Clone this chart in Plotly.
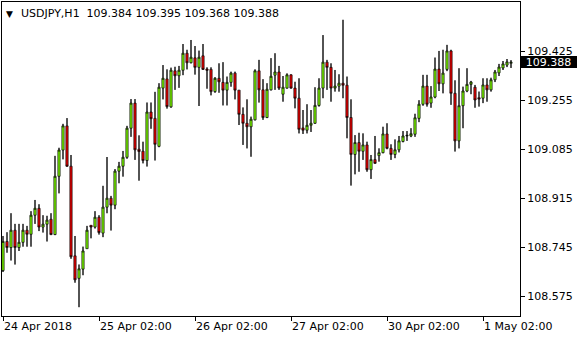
import plotly.graph_objects as go

symbol = "USDJPY,H1"

opens = [108.665,108.766,108.745,108.805,108.745,108.763,108.805,108.791,108.857,108.881,
         108.816,108.826,108.843,108.790,108.992,109.083,109.167,109.027,108.716,108.638,
         108.670,108.741,108.822,108.816,108.850,108.795,108.885,108.916,108.892,109.010,
         109.027,109.058,109.159,109.246,109.086,109.079,109.047,109.215,109.193,109.096,
         109.298,109.330,109.233,109.358,109.341,109.360,109.419,109.386,109.403,109.370,
         109.410,109.364,109.363,109.286,109.332,109.318,109.291,109.318,109.350,109.291,
         109.207,109.176,109.164,109.188,109.358,109.292,109.196,109.292,109.343,109.354,
         109.277,109.298,109.344,109.298,109.263,109.160,109.152,109.169,109.176,109.238,
         109.298,109.388,109.370,109.298,109.305,109.315,109.308,109.196,109.068,109.109,
         109.079,109.101,109.015,109.050,109.064,109.074,109.139,109.089,109.068,109.084,
         109.113,109.132,109.132,109.138,109.193,109.242,109.305,109.246,109.267,109.364,
         109.313,109.363,109.427,109.280,109.115,109.237,109.288,109.311,109.301,109.265,
         109.263,109.309,109.292,109.327,109.351,109.368,109.378,109.384]

highs = [108.785,108.798,108.864,108.827,108.827,108.827,108.820,108.871,108.910,108.895,
         108.857,108.855,108.864,109.063,109.091,109.174,109.194,109.066,108.785,108.686,
         108.748,108.820,108.822,108.871,108.857,108.959,109.059,108.924,109.017,109.042,
         109.080,109.167,109.260,109.260,109.134,109.112,109.248,109.248,109.285,109.315,
         109.378,109.363,109.369,109.372,109.375,109.451,109.431,109.465,109.444,109.428,
         109.451,109.370,109.370,109.336,109.384,109.388,109.338,109.355,109.355,109.291,
         109.231,109.259,109.199,109.363,109.396,109.329,109.315,109.402,109.419,109.375,
         109.340,109.349,109.346,109.320,109.332,109.222,109.242,109.222,109.301,109.332,
         109.482,109.396,109.384,109.361,109.346,109.535,109.338,109.259,109.135,109.143,
         109.141,109.112,109.066,109.132,109.089,109.164,109.176,109.103,109.120,109.132,
         109.149,109.149,109.159,109.209,109.256,109.344,109.344,109.305,109.404,109.427,
         109.431,109.448,109.431,109.325,109.367,109.303,109.367,109.323,109.309,109.286,
         109.332,109.332,109.334,109.361,109.382,109.392,109.399,109.395]

lows = [108.660,108.727,108.700,108.686,108.733,108.748,108.748,108.748,108.827,108.802,
        108.797,108.766,108.788,108.788,108.933,109.051,109.025,108.706,108.623,108.538,
        108.649,108.741,108.777,108.811,108.790,108.781,108.864,108.804,108.878,108.968,
        108.991,109.053,109.129,109.049,108.977,109.037,109.026,109.157,109.047,109.093,
        109.259,109.227,109.230,109.292,109.299,109.343,109.363,109.384,109.345,109.236,
        109.361,109.296,109.273,109.282,109.282,109.238,109.238,109.303,109.259,109.170,
        109.101,109.089,109.060,109.186,109.248,109.188,109.194,109.290,109.292,109.292,
        109.251,109.296,109.296,109.228,109.141,109.139,109.141,109.146,109.174,109.234,
        109.263,109.292,109.251,109.286,109.286,109.263,109.124,108.960,108.999,109.008,
        109.049,109.008,108.983,109.035,109.043,109.072,109.086,109.049,109.055,109.075,
        109.110,109.115,109.128,109.129,109.180,109.237,109.234,109.230,109.263,109.288,
        109.280,109.357,109.240,109.078,109.089,109.159,109.284,109.277,109.230,109.234,
        109.246,109.251,109.286,109.319,109.340,109.361,109.371,109.368]

closes = [108.766,108.745,108.805,108.745,108.763,108.805,108.791,108.857,108.881,108.816,
          108.826,108.840,108.790,108.992,109.083,109.167,109.027,108.713,108.633,108.671,
          108.733,108.805,108.816,108.850,108.797,108.885,108.916,108.892,109.010,109.027,
          109.058,109.159,109.246,109.084,109.078,109.047,109.215,109.192,109.103,109.301,
          109.332,109.234,109.360,109.341,109.360,109.419,109.386,109.405,109.370,109.405,
          109.363,109.360,109.286,109.332,109.320,109.291,109.318,109.350,109.291,109.207,
          109.176,109.164,109.190,109.358,109.292,109.196,109.294,109.339,109.354,109.298,
          109.301,109.344,109.298,109.263,109.155,109.152,109.169,109.176,109.238,109.298,
          109.388,109.370,109.298,109.305,109.315,109.308,109.196,109.068,109.109,109.079,
          109.101,109.015,109.050,109.037,109.074,109.139,109.089,109.068,109.084,109.115,
          109.132,109.134,109.140,109.195,109.242,109.305,109.242,109.267,109.364,109.313,
          109.350,109.427,109.280,109.115,109.237,109.288,109.311,109.319,109.257,109.260,
          109.309,109.292,109.327,109.354,109.371,109.382,109.389,109.388]

x_tick_index = [0, 24, 48, 72, 96, 120]
x_tick_text = ["24 Apr 2018", "25 Apr 02:00", "26 Apr 02:00", "27 Apr 02:00", "30 Apr 02:00", "1 May 02:00"]
y_tick_values = [109.425, 109.255, 109.085, 108.915, 108.745, 108.575]

FONT = "DejaVu Sans"
bars = list(range(len(opens)))

body_top = [max(o, c) for o, c in zip(opens, closes)]
body_bot = [min(o, c) for o, c in zip(opens, closes)]

# wick segments outside the bodies: high -> body top, body bottom -> low
wick_x, wick_y = [], []
for i, h, l, t, b in zip(bars, highs, lows, body_top, body_bot):
    wick_x += [i, i, None, i, i, None]
    wick_y += [h, t, None, b, l, None]

fig = go.Figure()
fig.add_trace(go.Candlestick(
    x=bars, open=opens, high=highs, low=lows, close=closes,
    increasing=dict(fillcolor="#7FFF00", line=dict(color="black", width=0.7)),
    decreasing=dict(fillcolor="#F00000", line=dict(color="black", width=0.7)),
    whiskerwidth=0, showlegend=False, hoverinfo="skip",
))
fig.add_trace(go.Scatter(
    x=wick_x, y=wick_y, mode="lines", line=dict(color="black", width=1),
    showlegend=False, hoverinfo="skip", connectgaps=False,
))

fig.update_layout(
    width=580, height=340,
    margin=dict(l=2, r=60, t=2, b=24),
    paper_bgcolor="white", plot_bgcolor="white",
    boxgap=0.2,
    font=dict(family=FONT, size=11, color="black"),
    xaxis=dict(
        range=[-0.25, 129.25], tickvals=x_tick_index, ticktext=x_tick_text,
        ticks="outside", ticklen=4, tickcolor="black", tickwidth=1,
        showline=True, linecolor="black", linewidth=1, mirror=True,
        showgrid=False, zeroline=False, rangeslider=dict(visible=False),
        ticklabelposition="outside right",
        tickfont=dict(family=FONT, size=11, color="black"),
    ),
    yaxis=dict(
        side="right", range=[108.5074, 109.5968], tickvals=y_tick_values,
        tickformat=".3f", ticks="outside", ticklen=4, tickcolor="black",
        showline=True, linecolor="black", linewidth=1, mirror=True,
        showgrid=False, zeroline=False,
        tickfont=dict(family=FONT, size=11, color="black"),
    ),
)

last = closes[-1]
fig.add_annotation(
    xref="paper", x=1, xanchor="left", yref="y", y=last, yanchor="middle",
    text=f"{last:.3f}", showarrow=False, bgcolor="black",
    font=dict(family=FONT, size=11, color="white"),
    width=55, height=10, borderpad=0, borderwidth=1, bordercolor="black", xshift=0,
)

fig.add_annotation(
    xref="paper", x=0, xanchor="left", yref="paper", y=1, yanchor="top",
    text="\u25BC", showarrow=False, font=dict(family=FONT, size=9, color="black"),
    xshift=2, yshift=-5,
)
header = f"{symbol}\u00a0\u00a0{opens[-1]:.3f} {highs[-1]:.3f} {lows[-1]:.3f} {closes[-1]:.3f}"
fig.add_annotation(
    xref="paper", x=0, xanchor="left", yref="paper", y=1, yanchor="top",
    text=header, showarrow=False, font=dict(family=FONT, size=11, color="black"),
    xshift=17, yshift=-3,
)

fig.write_html("out.html")
